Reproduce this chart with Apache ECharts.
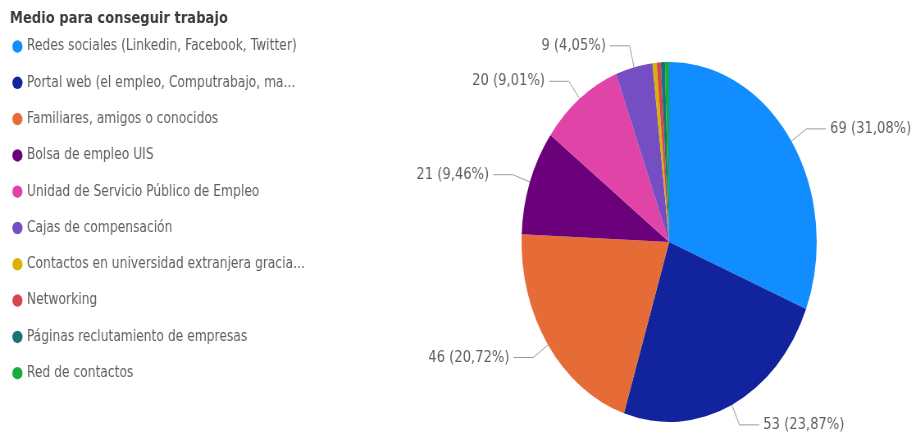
<!DOCTYPE html>
<html>
<head>
<meta charset="utf-8">
<script src="https://cdn.jsdelivr.net/npm/echarts@6/dist/echarts.min.js"></script>
<style>
  html, body { margin: 0; padding: 0; background: #fff; overflow: hidden; }
  #wrap { width: 912px; height: 440px; overflow: hidden; }
  /* the reference is squeezed horizontally, so the chart is drawn wide and scaled */
  #chart { width: 1112px; height: 440px; transform: scaleX(0.82); transform-origin: 0 0; }
</style>
</head>
<body>
<div id="wrap"><div id="chart"></div></div>
<script>
const legendTitle = 'Medio para conseguir trabajo';
const categories = [
  'Redes sociales (Linkedin, Facebook, Twitter)',
  'Portal web (el empleo, Computrabajo, ma...',
  'Familiares, amigos o conocidos',
  'Bolsa de empleo UIS',
  'Unidad de Servicio Público de Empleo',
  'Cajas de compensación',
  'Contactos en universidad extranjera gracia...',
  'Networking',
  'Páginas reclutamiento de empresas',
  'Red de contactos'
];
const values = [69, 53, 46, 21, 20, 9, 1, 1, 1, 1];
const colors = ['#118DFF', '#12239E', '#E66C37', '#6B007B', '#E044A7',
  '#744EC2', '#D9B300', '#D64550', '#197278', '#1AAB40'];

const total = values.reduce((a, b) => a + b, 0);
const dot = 'path://M50,0A50,50,0,1,1,50,100A50,50,0,1,1,50,0Z';

const chart = echarts.init(document.getElementById('chart'));

chart.setOption({
  color: colors,
  animation: false,
  textStyle: { fontFamily: 'DejaVu Sans' },
  title: {
    text: legendTitle,
    left: 7,
    top: 6,
    textStyle: { fontSize: 16, fontWeight: 'bold', color: '#3b3a39', fontFamily: 'DejaVu Sans' }
  },
  legend: {
    orient: 'vertical',
    left: 10,
    top: 34,
    icon: dot,
    itemWidth: 15,
    itemHeight: 12.5,
    itemGap: 21.3,
    textStyle: { fontSize: 15, color: '#605E5C', padding: [0, 0, 0, -1] },
    data: categories
  },
  series: [
    {
      type: 'pie',
      center: [816, 242],
      radius: 180,
      startAngle: 90,
      clockwise: true,
      avoidLabelOverlap: false,
      label: {
        color: '#605E5C',
        fontSize: 16,
        formatter: p => p.value + ' (' + (p.value / total * 100).toFixed(2).replace('.', ',') + '%)'
      },
      labelLine: {
        length: 22,
        length2: 24,
        lineStyle: { color: '#9a9a9a', width: 1 }
      },
      emphasis: { disabled: true },
      data: categories.map((name, i) => ({
        name: name,
        value: values[i],
        label: { show: values[i] > 1 },
        labelLine: { show: values[i] > 1 }
      }))
    }
  ]
});
</script>
</body>
</html>
